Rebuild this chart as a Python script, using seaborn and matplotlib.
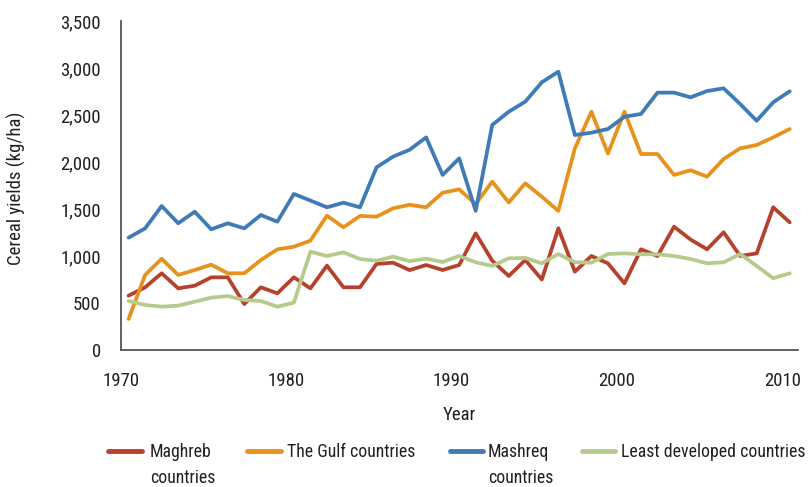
import matplotlib
matplotlib.use("Agg")
import matplotlib.pyplot as plt
import matplotlib.ticker as mticker
from matplotlib import font_manager as fm
from matplotlib.lines import Line2D
import seaborn as sns
import pandas as pd

years = list(range(1970, 2011))

maghreb = [578, 667, 816, 656, 684, 773, 773, 489, 667, 603,
           773, 656, 897, 667, 667, 915, 929, 850, 904, 851,
           904, 1241, 950, 787, 957, 750, 1295, 833, 1000, 922,
           709, 1071, 1000, 1312, 1175, 1071, 1252, 1000, 1028, 1518,
           1358]
gulf = [330, 798, 971, 798, 851, 908, 816, 816, 957, 1071,
        1099, 1163, 1429, 1305, 1426, 1418, 1507, 1545, 1518, 1673,
        1709, 1553, 1791, 1570, 1773, 1631, 1480, 2145, 2535, 2090,
        2535, 2085, 2085, 1862, 1912, 1844, 2032, 2145, 2181, 2262,
        2351]
mashreq = [1195, 1294, 1532, 1348, 1471, 1284, 1348, 1294, 1436, 1365,
           1660, 1590, 1518, 1567, 1518, 1943, 2057, 2130, 2262, 1862,
           2039, 1480, 2394, 2535, 2642, 2848, 2961, 2287, 2312, 2351,
           2482, 2511, 2738, 2738, 2688, 2755, 2784, 2617, 2439, 2635,
           2752]
least_dev = [521, 479, 461, 472, 514, 557, 574, 532, 521, 461,
             504, 1046, 1000, 1039, 968, 950, 993, 945, 972, 936,
             1000, 933, 894, 975, 979, 922, 1021, 933, 929, 1021,
             1028, 1018, 1018, 1000, 968, 922, 933, 1021, 894, 763,
             816]

labels = ["Maghreb\ncountries", "The Gulf countries",
          "Mashreq\ncountries", "Least developed countries"]
colors = ["#B6412C", "#E8921E", "#3F7BB6", "#B6CB8B"]
tick_years = [1970, 1980, 1990, 2000, 2010]

df = pd.concat([
    pd.DataFrame({"Year": years, "Yield": vals, "Region": lab})
    for vals, lab in zip([maghreb, gulf, mashreq, least_dev], labels)
])

sns.set_style("white")

# Prefer a narrow sans face for the compact typography
def pick_condensed():
    good = []
    for f in fm.fontManager.ttflist:
        narrow = (str(f.stretch) in ("condensed", "semi-condensed")
                  or "Condensed" in f.name or "Narrow" in f.name)
        if narrow and f.style == "normal" and f.weight in (400, "normal", "regular"):
            good.append(f)
    order = ["Roboto", "Noto Sans", "Open Sans", "Liberation", "DejaVu"]
    for key in order:
        for f in good:
            if f.name.startswith(key) and "Mono" not in f.name and "Serif" not in f.name:
                return f
    return good[0] if good else None

cf = pick_condensed()
if cf is not None:
    plt.rcParams["font.family"] = [cf.name, "DejaVu Sans"]
    plt.rcParams["font.stretch"] = cf.stretch
    fs, lfs = 13.5, 12.8
else:
    plt.rcParams["font.family"] = ["DejaVu Sans"]
    fs, lfs = 11, 10.5
txt = "#231f20"

W, H = 809, 487
fig = plt.figure(figsize=(W / 100, H / 100), dpi=100)
ax = fig.add_axes([121 / W, 1 - 350 / H, (798 - 121) / W, (350 - 21) / H])

sns.lineplot(data=df, x="Year", y="Yield", hue="Region", hue_order=labels,
             palette=colors, linewidth=2.7, ax=ax, legend=False)

# Year ticks sit between category slots, as on a category axis
ax.set_xlim(1969.54, 2010.5)
ax.set_xticks([y - 0.46 for y in tick_years])
ax.set_xticklabels([str(y) for y in tick_years])
ax.set_ylim(0, 3500)
ax.set_yticks(range(0, 3501, 500))
ax.yaxis.set_major_formatter(mticker.FuncFormatter(lambda v, p: f"{int(v):,}"))

for side in ["top", "right"]:
    ax.spines[side].set_visible(False)
for side in ["left", "bottom"]:
    ax.spines[side].set_color("#555555")
    ax.spines[side].set_linewidth(1.3)
ax.tick_params(axis="y", direction="out", length=8, width=1.3,
               color="#555555", labelsize=fs, labelcolor=txt, pad=6.5)
ax.tick_params(axis="x", direction="out", length=7, width=1.3,
               color="#555555", labelsize=fs, labelcolor=txt, pad=9)

ax.set_xlabel("Year", fontsize=fs, color=txt, labelpad=11)
ax.set_ylabel("Cereal yields (kg/ha)", fontsize=fs, color=txt)
ax.yaxis.set_label_coords(26 / W, 1 - 188 / H, transform=fig.transFigure)

# Legend row beneath the axis: handles aligned with the first text line
entries = [(108, 142, 150), (247, 281, 287), (450, 483, 488), (582, 615, 621)]
ly = 1 - 451 / H
for (x0, x1, xt), c, lab in zip(entries, colors, labels):
    fig.add_artist(Line2D([x0 / W, x1 / W], [ly, ly], transform=fig.transFigure,
                          color=c, linewidth=3.5, solid_capstyle="round"))
    fig.text(xt / W, 1 - 443 / H, lab, ha="left", va="top", fontsize=lfs,
             color=txt, linespacing=1.55)

fig.savefig("out.png", dpi=100)
